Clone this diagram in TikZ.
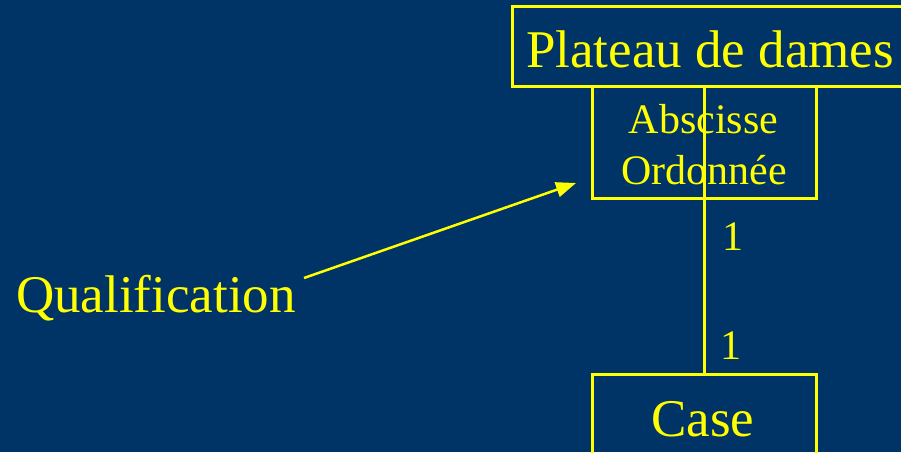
\documentclass[tikz,border=0pt]{standalone}
\usepackage{fontspec}
\setmainfont{Liberation Serif}
\usetikzlibrary{arrows.meta}
\definecolor{bgblue}{RGB}{0,51,102}
\definecolor{umlyellow}{RGB}{255,255,0}
\begin{document}
\begin{tikzpicture}[x=1pt,y=1pt,
  umlbox/.style={draw=umlyellow,line width=3pt,inner sep=0pt,minimum width=#1},
  umlbox/.default=224pt,
  big/.style={text=umlyellow,inner sep=0pt,anchor=base,font=\fontsize{53}{60}\selectfont},
  mid/.style={text=umlyellow,inner sep=0pt,anchor=base,font=\fontsize{42}{50}\selectfont},
  link/.style={draw=umlyellow,line width=3pt}]
\fill[bgblue] (0,0) rectangle (901,452);
\useasboundingbox (0,0) rectangle (901,452);
\begin{scope}
\clip (0,0) rectangle (901,452);
% boxes
\node[umlbox=400pt,minimum height=80pt] (plateau) at (712,405) {};
\node[umlbox,minimum height=112pt] (qual) at (704,309) {};
\node[umlbox,minimum height=100pt] (case) at (704,27) {};
% texts
\node[big] (plateautxt) at (710,384) {Plateau de dames};
\node[mid] (abs) at (703.5,318) {Abscisse};
\node[mid] (ord) at (704,267) {Ordonnée};
\node[big] (casetxt) at (703,16) {Case};
\node[big] (qualif) at (156,139) {Qualification};
% association
\draw[link] (qual.north) -- (case.north);
\node[mid,anchor=center] (m1) at (733,215) {1};
\node[mid,anchor=center] (m2) at (731,106) {1};
% arrow
\coordinate (astart) at (304,174);
\coordinate (aend) at (576,269);
\draw[link,line width=2.5pt,-{Triangle[length=20pt,width=15pt]}] (astart) -- (aend);
\end{scope}
\end{tikzpicture}
\end{document}
